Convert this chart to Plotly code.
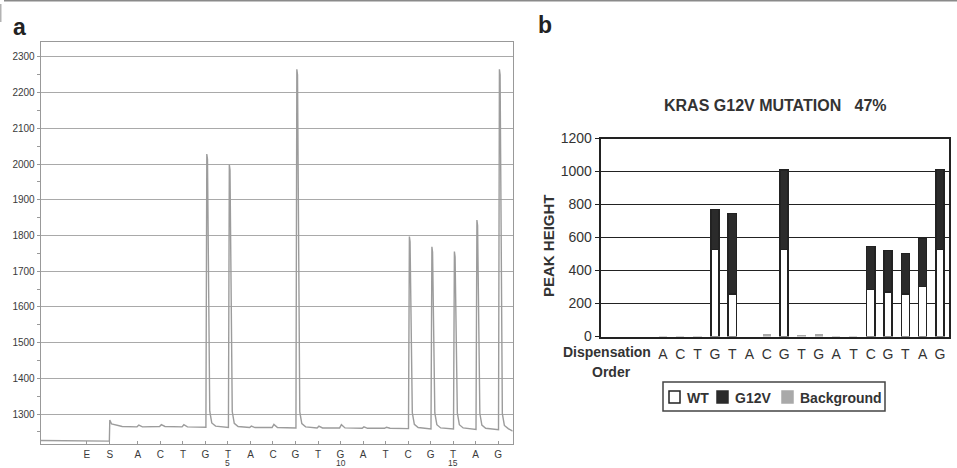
import plotly.graph_objects as go

# ---------------- Panel a: pyrogram ----------------
trace_labels = ["E", "S", "A", "C", "T", "G", "T", "A", "C", "G", "T", "G",
                "A", "T", "C", "G", "T", "A", "G"]
trace_tick_pos = [-1.27, -0.25, 1, 2, 3, 4, 5, 6, 7, 8, 9, 10, 11, 12, 13, 14, 15, 16, 17]
count_labels = ["5", "10", "15"]
count_pos = [5, 10, 15]

pre_level = [1226, 1224]          # signal before substrate (S) addition
s_level = [1283, 1272, 1265]      # jump at S and early decay
trace_base = [1264, 1265, 1264, 1263, 1262, 1262, 1262, 1261, 1261, 1261,
              1260, 1260, 1259, 1258, 1258, 1257, 1256]   # baseline under dispensations 1..17
peak_disp = [4, 5, 8, 13, 14, 15, 16, 17]
peak_top = [2028, 1998, 2265, 1797, 1768, 1755, 1843, 2265]
bump_disp = [1, 2, 3, 6, 7, 9, 10, 11, 12]
bump_top = [1269, 1270, 1270, 1266, 1271, 1266, 1270, 1264, 1263]
end_level = 1252

# ---------------- Panel b: peak heights ----------------
disp_order = ["A", "C", "T", "G", "T", "A", "C", "G", "T", "G", "A", "T", "C", "G", "T", "A", "G"]
wt = [0, 0, 0, 527, 259, 0, 0, 527, 0, 0, 0, 0, 284, 270, 259, 304, 527]
g12v = [0, 0, 0, 244, 486, 0, 0, 481, 0, 0, 0, 0, 261, 251, 245, 292, 484]
background = [4, 4, 4, 0, 0, 0, 16, 0, 10, 16, 4, 4, 0, 0, 0, 0, 0]
title_b = "KRAS G12V MUTATION   47%"

W, H = 957, 468


def px(x):
    return x / W


def py(y):
    return 1 - y / H


# build pyrogram polyline from the read values
xs = [-3.32, -0.27, -0.25, -0.17, 0.3]
ys = [pre_level[0], pre_level[1], s_level[0], s_level[1], s_level[2]]
for d in range(1, 18):
    b = trace_base[d - 1]
    if d in peak_disp:
        t = peak_top[peak_disp.index(d)]
        xs += [d + 0.02, d + 0.06, d + 0.09, d + 0.19, d + 0.28, d + 0.45]
        ys += [b, t, t - 15, b + 45, b + 12, b + 3]
    elif d in bump_disp:
        t = bump_top[bump_disp.index(d)]
        xs += [d - 0.04, d + 0.04, d + 0.2]
        ys += [b, t, b]
xs += [17.65]
ys += [end_level]

fig = go.Figure()
fig.add_trace(go.Scatter(x=xs, y=ys, mode="lines", line=dict(color="#9c9c9c", width=1.4),
                         xaxis="x", yaxis="y", showlegend=False, hoverinfo="skip"))

pos_b = list(range(1, 18))


def nz(v):
    return [val if val else None for val in v]


fig.add_trace(go.Bar(x=pos_b, y=nz(wt), width=0.47, name="WT", xaxis="x2", yaxis="y2",
                     marker=dict(color="white", line=dict(color="#222", width=1.5)),
                     showlegend=False))
fig.add_trace(go.Bar(x=pos_b, y=nz(g12v), width=0.47, name="G12V", xaxis="x2", yaxis="y2",
                     marker=dict(color="#2b2b2b", line=dict(color="#222", width=1.5)),
                     showlegend=False))
fig.add_trace(go.Bar(x=pos_b, y=nz(background), width=0.47, name="Background", xaxis="x2", yaxis="y2",
                     marker=dict(color="#a9a9a9", line=dict(color="#a9a9a9", width=0)),
                     showlegend=False))

FAM = "Liberation Sans, Arial, sans-serif"
left_font = dict(family=FAM, size=10, color="#3a3a3a")
count_font = dict(family=FAM, size=8.5, color="#3a3a3a")
bold_font = dict(family=FAM, size=14, color="#333")

fig.update_layout(
    width=W, height=H,
    margin=dict(l=0, r=0, t=0, b=0, autoexpand=False),
    paper_bgcolor="white", plot_bgcolor="white",
    barmode="stack",
    showlegend=False,
    xaxis=dict(domain=[px(40.7), px(512.7)], range=[-3.32, 17.65],
               tickmode="array", tickvals=trace_tick_pos, ticktext=trace_labels,
               ticks="inside", ticklen=3, tickcolor="#999", tickfont=left_font,
               ticklabelstandoff=1, automargin=False,
               showline=True, linecolor="#999", linewidth=1, mirror=True,
               showgrid=False, zeroline=False, anchor="y"),
    yaxis=dict(domain=[py(444), py(41.5)], range=[1216, 2343],
               tickmode="array", tickvals=list(range(1300, 2301, 100)),
               ticks="outside", ticklen=3, tickcolor="#999", tickfont=left_font,
               minor=dict(dtick=50, tick0=1250, ticks="outside", ticklen=3, tickcolor="#999", showgrid=False),
               showline=True, linecolor="#999", linewidth=1, mirror=True, automargin=False,
               showgrid=True, gridcolor="#a9a9a9", gridwidth=1,
               zeroline=False, anchor="x"),
    xaxis2=dict(domain=[px(600.6), px(949)], range=[-2.6, 17.52],
                tickmode="array", tickvals=pos_b, ticktext=disp_order,
                ticks="", tickfont=bold_font, ticklabelstandoff=4, automargin=False,
                showline=True, linecolor="#222", linewidth=2, mirror=True,
                showgrid=False, zeroline=False, anchor="y2"),
    yaxis2=dict(domain=[py(336.5), py(138.5)], range=[0, 1200],
                tickmode="array", tickvals=list(range(0, 1201, 200)),
                ticks="outside", ticklen=4, tickcolor="#222", tickfont=bold_font,
                showline=True, linecolor="#222", linewidth=2, mirror=True, automargin=False,
                showgrid=True, gridcolor="#222", gridwidth=1,
                zeroline=False, anchor="x2"),
)


def note(text, x, y, font, xanchor="center", **kw):
    return dict(text=text, x=px(x), y=py(y), xref="paper", yref="paper", showarrow=False,
                xanchor=xanchor, yanchor="middle", font=font, **kw)


ann = []
big = dict(family=FAM, size=23, color="#222")
ann.append(note("<b>a</b>", 19, 27, big))
ann.append(note("<b>b</b>", 545, 25, big))
ann.append(note("<b>" + title_b + "</b>", 775.5, 106, dict(family=FAM, size=16, color="#333")))
ann.append(note("<b>PEAK HEIGHT</b>", 548, 246, dict(family=FAM, size=15, color="#333"), textangle=-90))
ann.append(note("<b>Dispensation</b>", 653, 352, bold_font, xanchor="right"))
ann.append(note("<b>Order</b>", 611, 372, bold_font))
# dispensation counts under the pyrogram axis (kept inside the page)
for lab, pos in zip(count_labels, count_pos):
    ann.append(dict(text=lab, x=pos, y=py(463), xref="x", yref="paper", showarrow=False,
                    xanchor="center", yanchor="middle", borderpad=0, font=count_font))

# legend drawn manually
leg_items = [("WT", "white", "#222", 669, 685), ("G12V", "#2b2b2b", "#2b2b2b", 717, 733),
             ("Background", "#a9a9a9", "#a9a9a9", 782, 797.5)]
shapes = [dict(type="rect", xref="paper", yref="paper", x0=px(663), x1=px(885), y0=py(411), y1=py(382),
               line=dict(color="#444", width=1.5), fillcolor="rgba(0,0,0,0)")]
for name, fill, lc, sx, tx in leg_items:
    shapes.append(dict(type="rect", xref="paper", yref="paper", x0=px(sx), x1=px(sx + 11),
                       y0=py(403), y1=py(391), fillcolor=fill, line=dict(color=lc, width=1.5)))
    ann.append(note("<b>" + name + "</b>", tx, 398, bold_font, xanchor="left"))

# image frame along the top and the upper-left edge
shapes.append(dict(type="line", xref="paper", yref="paper", x0=px(4), x1=1, y0=py(0.8), y1=py(0.8),
                   line=dict(color="#8a8a8a", width=1.5)))
shapes.append(dict(type="line", xref="paper", yref="paper", x0=px(0.8), x1=px(0.8), y0=py(4), y1=py(22),
                   line=dict(color="#a0a0a0", width=1.2)))

fig.update_layout(annotations=ann, shapes=shapes)
fig.write_html("out.html")
